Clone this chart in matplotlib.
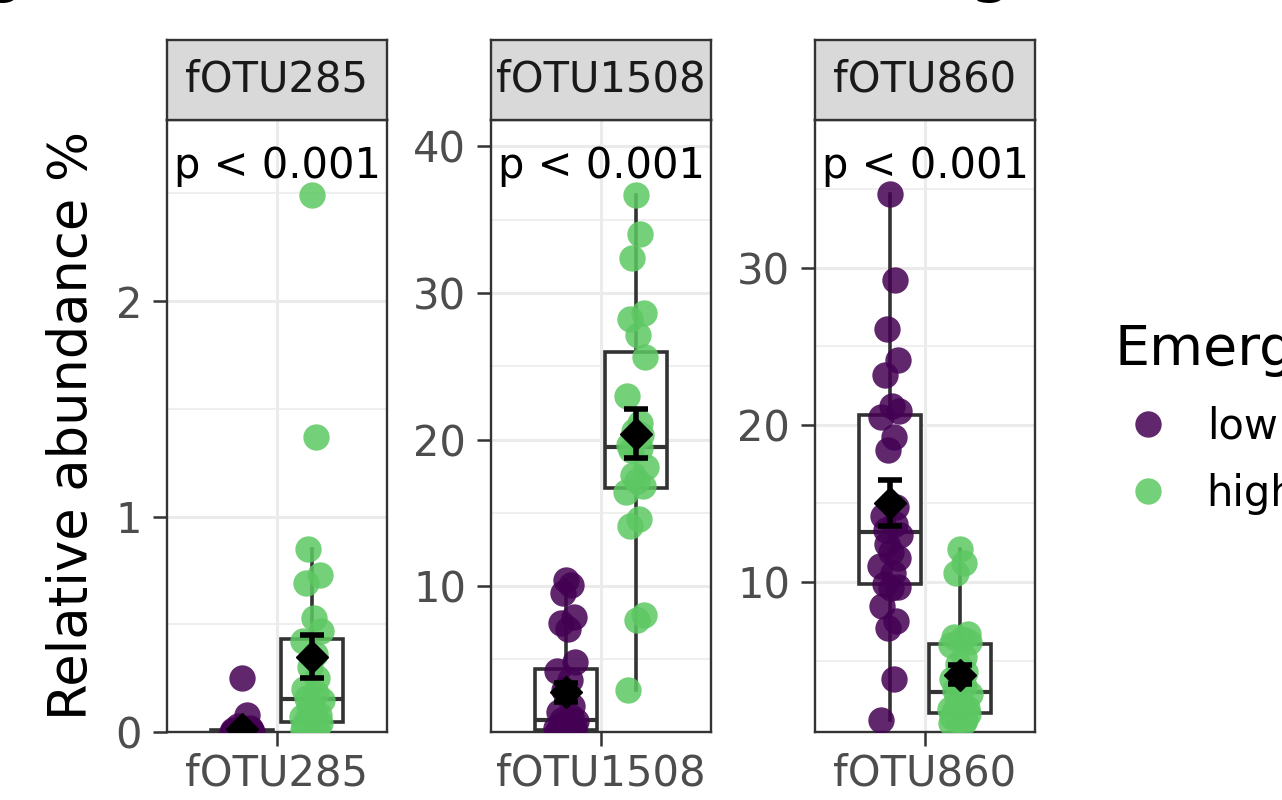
import numpy as np
import matplotlib
matplotlib.use('Agg')
import matplotlib.pyplot as plt
from matplotlib.lines import Line2D

# Facets, groups and labels
otus = ['fOTU285', 'fOTU1508', 'fOTU860']
groups = ['low', 'high']
p_labels = ['p < 0.001', 'p < 0.001', 'p < 0.001']
legend_title = 'Emergence'
y_title = 'Relative abundance %'

# Relative abundance % per sample
fotu285_low = [0.25, 0.08, 0.03, 0.02, 0.01, 0.01, 0.01, 0.01, 0.01, 0.0,
               0.0, 0.0, 0.0, 0.0, 0.0, 0.0, 0.0, 0.0, 0.0, 0.0,
               0.0, 0.0, 0.0, 0.0, 0.0, 0.0, 0.0, 0.0]
fotu285_high = [2.49, 1.37, 0.85, 0.73, 0.69, 0.53, 0.47, 0.42, 0.36, 0.30,
                0.25, 0.20, 0.18, 0.16, 0.15, 0.12, 0.10, 0.08, 0.07, 0.06,
                0.05, 0.04, 0.03, 0.03, 0.02, 0.02, 0.01, 0.01]
fotu1508_low = [10.4, 10.1, 9.5, 7.9, 7.5, 7.1, 4.8, 4.2, 3.6, 2.9,
                1.8, 1.4, 1.1, 0.9, 0.8, 0.6, 0.5, 0.4, 0.3, 0.3,
                0.2, 0.2, 0.1, 0.1, 0.1, 0.05, 0.02, 0.01]
fotu1508_high = [36.7, 34.0, 32.4, 28.6, 28.2, 27.1, 25.6, 23.0, 21.1, 20.6,
                 20.3, 19.6, 19.4, 19.3, 18.1, 17.6, 17.2, 16.8, 16.4, 14.6,
                 14.1, 8.0, 7.7, 2.9]
fotu860_low = [34.7, 29.2, 26.1, 24.1, 23.2, 21.2, 20.9, 20.5, 19.2, 18.4,
               14.8, 14.2, 13.7, 13.3, 13.0, 12.4, 11.9, 11.5, 11.0, 10.6,
               9.9, 9.7, 9.6, 8.5, 7.5, 7.1, 3.8, 1.2]
fotu860_high = [12.1, 11.2, 10.6, 6.7, 6.5, 6.4, 6.2, 6.0, 5.2, 4.8,
                4.3, 3.8, 3.4, 3.1, 2.9, 2.6, 2.3, 2.0, 1.9, 1.8,
                1.7, 1.6, 1.5, 1.4, 1.3, 1.2, 1.1, 1.0]

# horizontal jitter of the points (category units), as seen in the plot
jitter = [0.00, 0.025, -0.02, 0.045, -0.03, 0.01, 0.05, -0.05, 0.02, -0.01,
          0.03, -0.04, 0.025, -0.025, 0.055, -0.015, 0.005, 0.04, -0.055, 0.015,
          -0.03, 0.045, 0.005, -0.045, 0.03, -0.01, 0.02, -0.05]

data = [(fotu285_low, fotu285_high),
        (fotu1508_low, fotu1508_high),
        (fotu860_low, fotu860_high)]

y_limits = [(0.0, 2.84), (0.05, 41.8), (0.45, 39.4)]
y_major = [[0, 1, 2], [10, 20, 30, 40], [10, 20, 30]]
y_minor = [[0.5, 1.5, 2.5], [5, 15, 25, 35], [5, 15, 25, 35]]

colors = ['#440154', '#5DC863']
EDGE = '#333333'
GRID = '#EBEBEB'

W, H = 1282, 800
fig = plt.figure(figsize=(W / 100, H / 100), dpi=100)

panel_left = [167, 491, 815]
panel_w = 220
panel_bottom = 68
panel_h = 612
strip_h = 80
dodge = [-0.19, 0.19]

for i, otu in enumerate(otus):
    ax = fig.add_axes([panel_left[i] / W, panel_bottom / H, panel_w / W, panel_h / H])
    ax.set_xlim(0.4, 1.6)
    ax.set_ylim(*y_limits[i])
    ax.set_xticks([1])
    ax.set_xticklabels([otu])
    ax.set_yticks(y_major[i])
    ax.set_yticks(y_minor[i], minor=True)
    ax.grid(which='major', color=GRID, lw=2.2)
    ax.grid(which='minor', axis='y', color=GRID, lw=1.1)
    ax.set_axisbelow(True)
    ax.tick_params(which='major', length=10, width=1.8, color=EDGE,
                   labelsize=30, labelcolor='#4D4D4D')
    ax.tick_params(axis='y', pad=8)
    ax.tick_params(axis='x', pad=5)
    ax.tick_params(which='minor', length=0)
    for sp in ax.spines.values():
        sp.set_color(EDGE)
        sp.set_linewidth(1.7)

    for j, vals in enumerate(data[i]):
        pos = 1 + dodge[j]
        ax.boxplot(vals, positions=[pos], widths=0.34, whis=1.5,
                   showfliers=False, showcaps=False, patch_artist=True,
                   manage_ticks=False, zorder=2,
                   boxprops=dict(facecolor='white', edgecolor=EDGE, lw=2.6),
                   whiskerprops=dict(color=EDGE, lw=2.6),
                   medianprops=dict(color=EDGE, lw=3.0))
        xs = pos + np.array(jitter[:len(vals)])
        ax.scatter(xs, vals, s=360, color=colors[j], alpha=0.85,
                   linewidths=0, zorder=3)
        m = np.mean(vals)
        se = np.std(vals, ddof=1) / np.sqrt(len(vals))
        ax.errorbar(pos, m, yerr=se, fmt='D', color='black', ms=16,
                    elinewidth=4, capsize=8.5, capthick=4, zorder=4)

    ax.text(0.5, 0.925, p_labels[i], transform=ax.transAxes, ha='center',
            va='center', fontsize=30, color='black', zorder=5)

    # facet strip
    sax = fig.add_axes([panel_left[i] / W, (panel_bottom + panel_h) / H,
                        panel_w / W, strip_h / H])
    sax.set_facecolor('#D9D9D9')
    sax.set_xticks([])
    sax.set_yticks([])
    for sp in sax.spines.values():
        sp.set_color(EDGE)
        sp.set_linewidth(1.7)
    sax.text(0.5, 0.5, otu, transform=sax.transAxes, ha='center', va='center',
             fontsize=30, color='#1A1A1A')

fig.text(72 / W, 1 - 425 / H, y_title, rotation=90, fontsize=38,
         ha='center', va='center')

# legend: title as text, keys through the legend machinery
fig.text(1115 / W, 1 - 350 / H, legend_title, fontsize=40,
         ha='left', va='center')
handles = [Line2D([], [], marker='o', linestyle='', markersize=19,
                  color=c, alpha=0.85, markeredgewidth=0) for c in colors]
leg = fig.legend(handles, groups, loc='upper left',
                 bbox_to_anchor=(1115 / W, 1 - 406 / H), frameon=False,
                 fontsize=30, handlelength=1.6,
                 handletextpad=0.6, labelspacing=0.6, borderpad=0,
                 borderaxespad=0)

# descenders of the cropped title line at the top edge
fig.text(3 / W, 1 + 11 / H, 'g', fontsize=50, ha='center', va='baseline')
fig.text(990 / W, 1 + 11 / H, 'g', fontsize=50, ha='center', va='baseline')

fig.savefig('out.png', dpi=100)
